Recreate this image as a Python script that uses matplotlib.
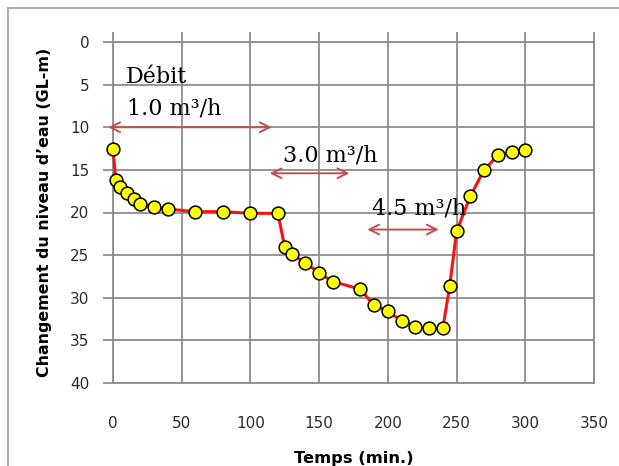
import matplotlib
matplotlib.use("Agg")
import matplotlib.pyplot as plt
from matplotlib.lines import Line2D

# Data
temps = [0, 2, 5, 10, 15, 20, 30, 40, 60, 80, 100, 120,
         125, 130, 140, 150, 160, 180, 190, 200, 210, 220, 230, 240,
         245, 250, 260, 270, 280, 290, 300]
niveau = [12.5, 16.2, 17.0, 17.7, 18.4, 19.0, 19.4, 19.6, 19.9, 19.9, 20.1, 20.1,
          24.1, 24.9, 25.9, 27.1, 28.1, 29.0, 30.9, 31.6, 32.7, 33.4, 33.6, 33.6,
          28.6, 22.2, 18.1, 15.0, 13.3, 12.9, 12.7]

x_ticks = [0, 50, 100, 150, 200, 250, 300, 350]
y_ticks = [0, 5, 10, 15, 20, 25, 30, 35, 40]

arrows = [  # (x_start, x_end, y)
    (-3.5, 115.5, 10.0),
    (114, 172, 15.4),
    (185, 237, 22.0),
]
labels = [
    ("Débit", 9.5, 4.1),
    ("1.0 m³/h", 10.5, 7.8),
    ("3.0 m³/h", 123.5, 13.3),
    ("4.5 m³/h", 188.5, 19.5),
]

fig = plt.figure(figsize=(6.19, 4.66), dpi=100)
bx, by = 7.5/619, 1 - 7.5/466
fig.lines.append(Line2D([bx, 1.0], [by, by], transform=fig.transFigure,
                        color="#a0a0a0", linewidth=1.2))
fig.lines.append(Line2D([bx, bx], [0, by], transform=fig.transFigure,
                        color="#a0a0a0", linewidth=1.2))
ax = fig.add_axes([113/619, 1 - 383/466, (594 - 113)/619, (383 - 42)/466])

grid_c = "#8c8c8c"
ax.set_xlim(0, 350)
ax.set_ylim(40, 0)
ax.set_xticks(x_ticks)
ax.set_yticks(y_ticks)
ax.grid(True, color=grid_c, linewidth=1.3)
for s in ax.spines.values():
    s.set_color(grid_c)
    s.set_linewidth(1.3)
ax.tick_params(axis="x", top=True, bottom=False, labeltop=False, labelbottom=True,
               direction="out", length=7, width=1.3, color=grid_c, pad=17,
               labelsize=11, labelcolor="#2b2b2b")
ax.tick_params(axis="y", direction="out", length=7, width=1.3, color=grid_c, pad=10,
               labelsize=11, labelcolor="#2b2b2b")

ax.plot(temps, niveau, color="#ff1010", linewidth=2.2, marker="o", markersize=9.2,
        markerfacecolor="#ffff00", markeredgecolor="black", markeredgewidth=1.1,
        zorder=5, clip_on=False)

arrow_c = "#c0504d"
for x0, x1, y in arrows:
    ax.annotate("", xy=(x1, y), xytext=(x0, y),
                arrowprops=dict(arrowstyle="<->,head_length=0.7,head_width=0.35",
                                color=arrow_c, lw=1.4, shrinkA=0, shrinkB=0),
                annotation_clip=False, zorder=4)

for t, x, y in labels:
    ax.text(x, y, t, fontsize=16, family="DejaVu Serif", color="black",
            ha="left", va="center", zorder=6)

ax.set_xlabel("Temps (min.)", fontsize=11.7, fontweight="bold", labelpad=14)
ax.set_ylabel("Changement du niveau d’eau (GL-m)", fontsize=11.4, fontweight="bold",
              labelpad=13)

fig.savefig("out.png", dpi=100)
